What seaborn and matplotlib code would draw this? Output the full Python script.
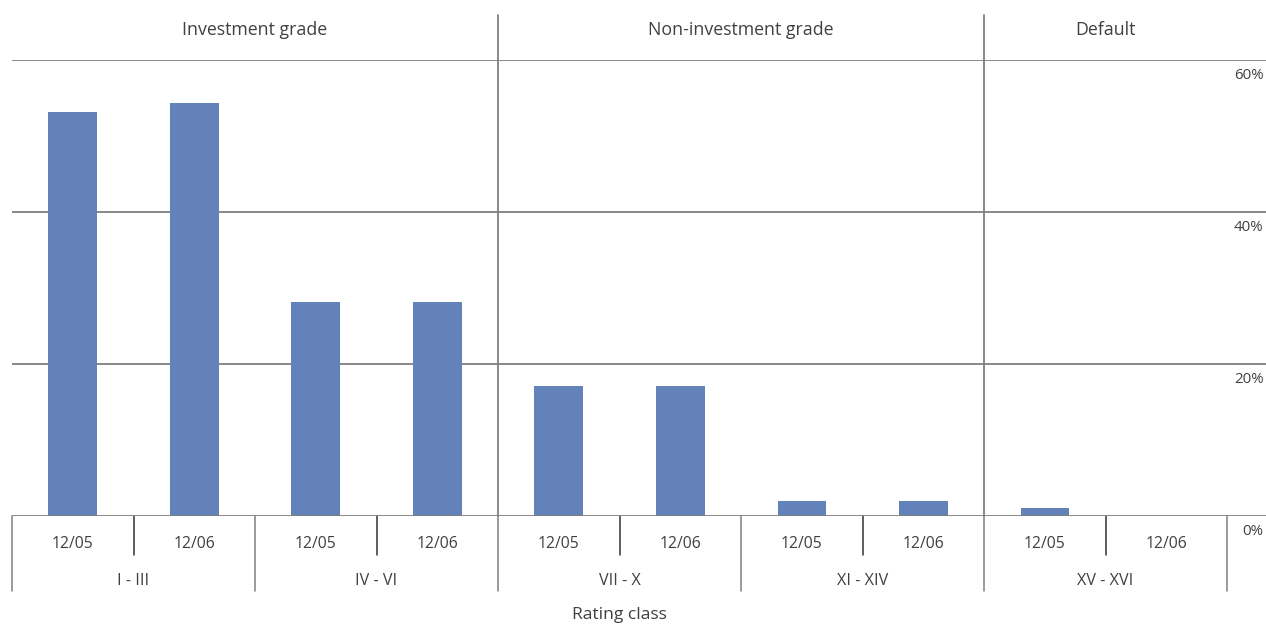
import pandas as pd
import seaborn as sns
import matplotlib.pyplot as plt

# values (share of exposure, %)
rating_groups = ["I - III", "IV - VI", "VII - X", "XI - XIV", "XV - XVI"]
periods = ["12/05", "12/06"]
share_1205 = [53.1, 28.2, 17.1, 2.0, 1.05]
share_1206 = [54.3, 28.1, 17.1, 2.0, 0.0]
grades = ["Investment grade", "Non-investment grade", "Default"]
grade_span = [(0, 3), (4, 7), (8, 9)]  # slots covered by each grade
y_ticks = [0, 20, 40, 60]

rows = []
for i, g in enumerate(rating_groups):
    rows.append({"slot": f"{g} {periods[0]}", "share": share_1205[i]})
    rows.append({"slot": f"{g} {periods[1]}", "share": share_1206[i]})
data = pd.DataFrame(rows)

sns.set_style("white")
plt.rcParams["font.family"] = ["Open Sans", "DejaVu Sans"]

txt = "#404040"
line = "#7f7f7f"

fig = plt.figure(figsize=(12.66, 6.24), dpi=100)
ax = fig.add_axes([12 / 1266, (624 - 516) / 624, 1254 / 1266, 456 / 624])

sns.barplot(data=data, x="slot", y="share", order=list(data["slot"]),
            color="#6482ba", width=0.4, saturation=1, linewidth=0, ax=ax)
for p in ax.patches:
    p.set_zorder(2)

ax.set_xlim(-0.5, 9.82)
ax.set_ylim(0, 60)
ax.set_xticks([])
ax.set_yticks([])
ax.set_xlabel("")
ax.set_ylabel("")
sns.despine(ax=ax, left=True, bottom=True)

for v in y_ticks:
    ax.axhline(v, color=line, lw=1.3, zorder=1 if v else 3)
    ax.text(9.80, v - 2.1, f"{v}%", ha="right", va="center", fontsize=10.8, color=txt)

# separators under the axis
n = len(data)
for i in range(n + 1):
    x = i - 0.5
    bottom = -9.87 if i % 2 == 0 else -5.13
    ax.plot([x, x], [0, bottom], color="#333333" if i % 2 else line, lw=1.1, clip_on=False)

# grade dividers going up to the header
for s in grade_span[1:]:
    x = s[0] - 0.5
    ax.plot([x, x], [0, 65.9], color=line, lw=1.3, clip_on=False, zorder=1)

for i in range(n):
    ax.text(i, -3.75, periods[i % 2], ha="center", va="center", fontsize=11.3, color=txt)
for i, g in enumerate(rating_groups):
    ax.text(2 * i + 0.5, -8.5, g, ha="center", va="center", fontsize=11.6, color=txt)

for g, (a, b) in zip(grades, grade_span):
    ax.text((a + b) / 2, 64.0, g, ha="center", va="center", fontsize=12.8, color=txt, clip_on=False)

ax.text(4.5, -13.0, "Rating class", ha="center", va="center", fontsize=12.6, color=txt)

fig.savefig("out.png", dpi=100)
